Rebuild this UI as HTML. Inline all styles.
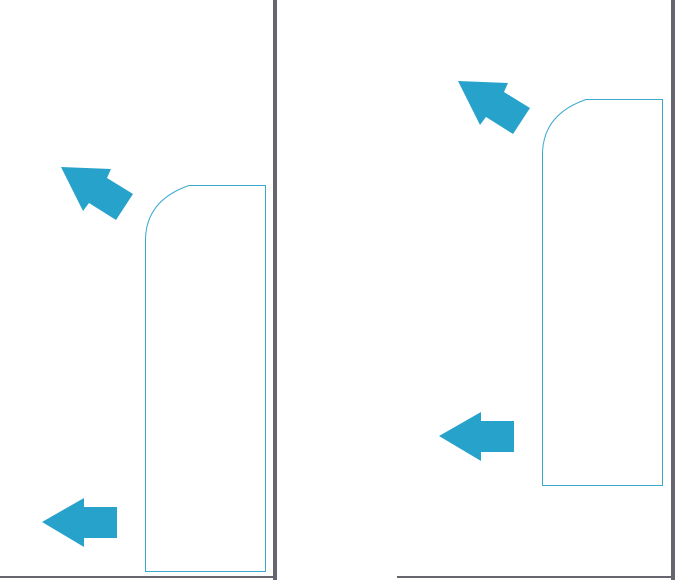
<!DOCTYPE html>
<html><head><style>html,body{margin:0;padding:0;background:#fff;width:685px;height:580px;overflow:hidden}</style></head>
<body>
<svg width="685" height="580" viewBox="0 0 685 580" xmlns="http://www.w3.org/2000/svg">
<rect x="273" y="0" width="4" height="580" fill="#67656d"/>
<rect x="671" y="0" width="4" height="580" fill="#67656d"/>
<rect x="0" y="576" width="274" height="2" fill="#67656d"/>
<rect x="397" y="576" width="278" height="2" fill="#67656d"/>
<g id="p">
<path d="M145.5,571.5 V238 Q147,200 189,185.5 H265.5 V571.5 Z" fill="none" stroke="#3aa9d0" stroke-width="1"/>
<polygon points="61,167 111,169 107,178 133,194 116,220 89,203 83,211" fill="#27a3cb"/>
<polygon points="42,522 84,498 84,507 117,507 117,538 84,538 84,547" fill="#27a3cb"/>
</g>
<use href="#p" transform="translate(397,-86)"/>
</svg>
</body></html>
